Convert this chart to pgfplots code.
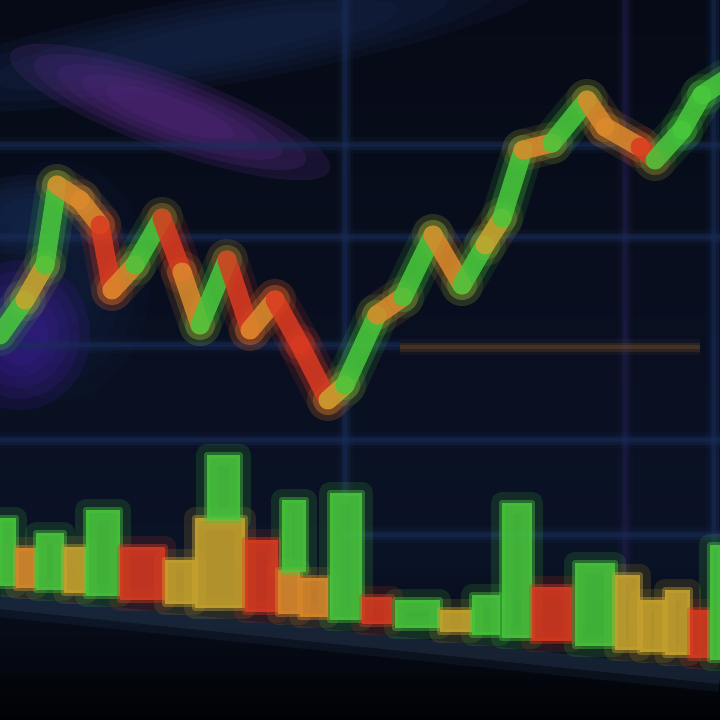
\documentclass[border=0pt]{standalone}
\usepackage{pgfplots}
\pgfplotsset{compat=1.18}
\definecolor{bgtop}{HTML}{060A16}
\definecolor{bgmid}{HTML}{0A1226}
\definecolor{bgbot}{HTML}{010204}
\definecolor{cgreen}{HTML}{48C83C}
\definecolor{corange}{HTML}{DC8A2C}
\definecolor{cred}{HTML}{DA3A20}
\definecolor{cyellow}{HTML}{C9A42E}
\definecolor{cgrid}{HTML}{1A2E5A}
\definecolor{cgridp}{HTML}{221E4C}
\definecolor{cpurple}{HTML}{5E2C8C}
\definecolor{cband}{HTML}{1A2D58}
\definecolor{caxis}{HTML}{35506E}

\newcommand{\segglowA}[5]{\addplot[color=#5, line width=42pt, opacity=0.12, line cap=round] coordinates {(#1,#2) (#3,#4)};}
\newcommand{\segglowB}[5]{\addplot[color=#5, line width=30pt, opacity=0.25, line cap=round] coordinates {(#1,#2) (#3,#4)};}
\newcommand{\segcore}[5]{\addplot[color=#5, line width=19pt, opacity=0.85, line cap=round] coordinates {(#1,#2) (#3,#4)};}
\newcommand{\pricesegs}[1]{%
#1{0}{335}{25}{300}{cgreen}
#1{25}{300}{45}{265}{cyellow}
#1{45}{265}{57}{185}{cgreen}
#1{57}{185}{80}{200}{corange}
#1{80}{200}{100}{225}{corange}
#1{100}{225}{112}{290}{cred}
#1{112}{290}{135}{265}{corange}
#1{135}{265}{162}{218}{cgreen}
#1{162}{218}{182}{272}{cred}
#1{182}{272}{200}{325}{corange}
#1{200}{325}{227}{260}{cgreen}
#1{227}{260}{250}{330}{cred}
#1{250}{330}{275}{300}{corange}
#1{275}{300}{300}{345}{cred}
#1{300}{345}{328}{400}{cred}
#1{328}{400}{345}{385}{cyellow}
#1{345}{385}{377}{315}{cgreen}
#1{377}{315}{403}{297}{corange}
#1{403}{297}{433}{235}{cgreen}
#1{433}{235}{462}{285}{corange}
#1{462}{285}{485}{245}{cgreen}
#1{485}{245}{502}{218}{cyellow}
#1{502}{218}{523}{150}{cgreen}
#1{523}{150}{552}{143}{corange}
#1{552}{143}{587}{100}{cgreen}
#1{587}{100}{605}{127}{corange}
#1{605}{127}{640}{147}{corange}
#1{640}{147}{655}{160}{cred}
#1{655}{160}{682}{130}{cgreen}
#1{682}{130}{702}{95}{cgreen}
#1{702}{95}{725}{80}{cgreen}
}
\newcommand{\vbarglow}[5]{\addplot[fill=#5, draw=#5, line width=22pt, opacity=0.15, line join=round] coordinates {(#1,#4) (#1,#3) (#2,#3) (#2,#4)} -- cycle;}
\newcommand{\vbarcore}[5]{\addplot[fill=#5, draw=#5, line width=6pt, draw opacity=0.4, fill opacity=0.85, line join=round] coordinates {(#1,#4) (#1,#3) (#2,#3) (#2,#4)} -- cycle;}
\newcommand{\volbars}[1]{%
#1{0}{16}{518}{586}{cgreen}
#1{16}{36}{548}{588}{corange}
#1{36}{64}{533}{590}{cgreen}
#1{64}{86}{547}{593}{cyellow}
#1{86}{120}{510}{596}{cgreen}
#1{120}{165}{547}{600}{cred}
#1{165}{195}{560}{604}{cyellow}
#1{195}{245}{518}{608}{cyellow}
#1{207}{240}{455}{520}{cgreen}
#1{245}{278}{540}{612}{cred}
#1{278}{300}{570}{614}{corange}
#1{282}{306}{500}{572}{cgreen}
#1{300}{328}{578}{617}{corange}
#1{330}{362}{493}{620}{cgreen}
#1{362}{392}{597}{624}{cred}
#1{395}{440}{600}{628}{cgreen}
#1{440}{472}{610}{632}{cyellow}
#1{472}{500}{595}{635}{cgreen}
#1{502}{532}{503}{638}{cgreen}
#1{532}{572}{587}{641}{cred}
#1{575}{615}{563}{646}{cgreen}
#1{615}{640}{575}{650}{cyellow}
#1{640}{665}{600}{652}{cyellow}
#1{665}{690}{590}{655}{cyellow}
#1{690}{710}{610}{658}{cred}
#1{710}{720}{545}{660}{cgreen}
}
% soft ellipse: x y rx ry angle color opacity
\newcommand{\oneell}[8]{\fill[#6, opacity=#7, rotate around={#5:(axis cs:#1,#2)}] (axis cs:#1,#2) ellipse [x radius={#8*#3}, y radius={#8*#4}];}
\newcommand{\softell}[7]{%
\oneell{#1}{#2}{#3}{#4}{#5}{#6}{#7}{1.0}
\oneell{#1}{#2}{#3}{#4}{#5}{#6}{#7}{0.85}
\oneell{#1}{#2}{#3}{#4}{#5}{#6}{#7}{0.7}
\oneell{#1}{#2}{#3}{#4}{#5}{#6}{#7}{0.55}
\oneell{#1}{#2}{#3}{#4}{#5}{#6}{#7}{0.4}}
\newcommand{\gridline}[5]{%
\addplot[#5, line width=16pt, opacity=0.12] coordinates {(#1,#2) (#3,#4)};
\addplot[#5, line width=9pt, opacity=0.3] coordinates {(#1,#2) (#3,#4)};
\addplot[#5, line width=4pt, opacity=0.4] coordinates {(#1,#2) (#3,#4)};}

\begin{document}
\begin{tikzpicture}
\begin{axis}[
  scale only axis, width=720pt, height=720pt,
  xmin=0, xmax=720, ymin=0, ymax=720, y dir=reverse,
  hide axis, clip=true,
]
% background
\addplot[draw=none, top color=bgtop, bottom color=bgmid] coordinates {(0,0) (720,0) (720,560) (0,560)} -- cycle;
\addplot[draw=none, top color=bgmid, bottom color=bgbot] coordinates {(0,560) (720,560) (720,720) (0,720)} -- cycle;
% glows
\softell{220}{40}{330}{45}{10}{cband}{0.16}
\softell{30}{215}{80}{40}{0}{cband}{0.16}
\softell{60}{280}{90}{120}{0}{cband}{0.09}
\softell{170}{112}{170}{38}{-20}{cpurple}{0.2}
\softell{20}{335}{70}{75}{0}{cpurple!75!blue}{0.16}
% grid
\gridline{345}{0}{345}{610}{cgrid}
\gridline{625}{0}{625}{640}{cgridp}
\gridline{714}{0}{714}{600}{cgrid}
\gridline{0}{145}{720}{145}{cgrid}
\gridline{0}{237}{720}{237}{cgrid}
\gridline{0}{345}{400}{345}{cgrid}
\gridline{400}{347}{700}{347}{corange!45!bgmid}
\gridline{0}{440}{720}{440}{cgrid}
\gridline{340}{535}{720}{535}{cgrid}
% x axis band
\addplot[caxis, line width=30pt, opacity=0.15] coordinates {(0,602) (720,677)};
\addplot[caxis, line width=14pt, opacity=0.25] coordinates {(0,602) (720,677)};
% price
\pricesegs\segglowA
\pricesegs\segglowB
\pricesegs\segcore
% volume
\volbars\vbarglow
\volbars\vbarcore
\end{axis}
\pgfresetboundingbox
\path (current axis.south west) rectangle (current axis.north east);
\end{tikzpicture}
\end{document}
